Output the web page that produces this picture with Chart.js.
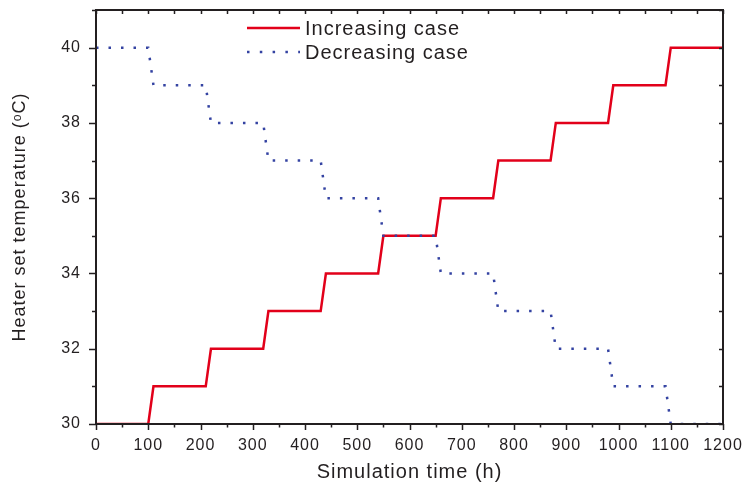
<!DOCTYPE html>
<html>
<head>
<meta charset="utf-8">
<script src="https://cdn.jsdelivr.net/npm/chart.js@4/dist/chart.umd.min.js"></script>
<style>
  html, body { margin: 0; padding: 0; background: #fff; }
</style>
</head>
<body>
<canvas id="heaterChart" width="743" height="489"></canvas>
<script>
// data
const timeHours = [0, 100, 110, 210, 220, 320, 330, 430, 440, 540, 550, 650, 660, 760, 770, 870, 880, 980, 990, 1090, 1100, 1200];
const increasingTemps = [30, 30, 31, 31, 32, 32, 33, 33, 34, 34, 35, 35, 36, 36, 37, 37, 38, 38, 39, 39, 40, 40];
const decreasingTemps = [40, 40, 39, 39, 38, 38, 37, 37, 36, 36, 35, 35, 34, 34, 33, 33, 32, 32, 31, 31, 30, 30];
const seriesNames = ["Increasing case", "Decreasing case"];
const xTickValues = [0, 100, 200, 300, 400, 500, 600, 700, 800, 900, 1000, 1100, 1200];
const yTickValues = [30, 32, 34, 36, 38, 40];

const RED = "#e2001a";
const BLUE = "#3443a2";
const INK = "#231f20";
const FONT = "'Liberation Sans', Arial, sans-serif";

function toPoints(values) {
    return timeHours.map((t, i) => ({ x: t, y: values[i] }));
}

// letter spacing like the original figure text
const spacing = {
    id: "spacing",
    beforeLayout(chart) { chart.ctx.letterSpacing = "1px"; },
    beforeDraw(chart) { chart.ctx.letterSpacing = "1px"; },
};

// box frame with minor / inward ticks
const frameTicks = {
    id: "frameTicks",
    afterDraw(chart) {
        const { ctx, chartArea: a, scales: { x, y } } = chart;
        ctx.save();
        ctx.strokeStyle = INK;
        ctx.lineWidth = 2;
        ctx.strokeRect(a.left, a.top, a.right - a.left, a.bottom - a.top);
        ctx.lineWidth = 1.5;
        ctx.beginPath();
        for (let t = 0; t <= 1200; t += 50) {
            const px = Math.round(x.getPixelForValue(t)) + 0.5;
            const len = t % 100 === 0 ? 6 : 3.5;
            ctx.moveTo(px, a.bottom);
            ctx.lineTo(px, a.bottom + len);
            ctx.moveTo(px, a.top);
            ctx.lineTo(px, a.top + 4);
        }
        for (let v = 30; v <= 41; v++) {
            const py = Math.round(y.getPixelForValue(v)) + 0.5;
            const len = v % 2 === 0 ? 7 : 4;
            ctx.moveTo(a.left, py);
            ctx.lineTo(a.left - len, py);
            ctx.moveTo(a.right, py);
            ctx.lineTo(a.right - 4, py);
        }
        ctx.stroke();
        ctx.restore();
    }
};

// two-row legend at the top
const stackedLegend = {
    id: "stackedLegend",
    afterDraw(chart) {
        const ctx = chart.ctx;
        const rows = [
            { label: seriesNames[0], color: RED, dash: [], width: 2.5, y: 28 },
            { label: seriesNames[1], color: BLUE, dash: [2.5, 10.3], width: 2.5, y: 52 },
        ];
        ctx.save();
        rows.forEach(r => {
            ctx.strokeStyle = r.color;
            ctx.lineWidth = r.width;
            ctx.setLineDash(r.dash);
            ctx.beginPath();
            ctx.moveTo(247, r.y);
            ctx.lineTo(300, r.y);
            ctx.stroke();
            ctx.setLineDash([]);
            ctx.fillStyle = INK;
            ctx.font = "20px " + FONT;
            ctx.textBaseline = "middle";
            ctx.textAlign = "left";
            ctx.fillText(r.label, 305, r.y + 1);
        });
        ctx.restore();
    }
};

const ctx = document.getElementById("heaterChart").getContext("2d");

new Chart(ctx, {
    type: "line",
    data: {
        datasets: [
            {
                label: seriesNames[0],
                data: toPoints(increasingTemps),
                borderColor: RED,
                borderWidth: 2.5,
                pointRadius: 0,
                tension: 0,
                fill: false,
                order: 1,
            },
            {
                label: seriesNames[1],
                data: toPoints(decreasingTemps),
                borderColor: BLUE,
                borderWidth: 2.5,
                borderDash: [2.5, 10],
                pointRadius: 0,
                tension: 0,
                fill: false,
                order: 0,
            },
        ],
    },
    options: {
        responsive: false,
        animation: false,
        layout: { padding: { top: 10, right: 20, bottom: 0, left: 0 } },
        plugins: {
            legend: { display: false },
            tooltip: { enabled: false },
        },
        scales: {
            x: {
                type: "linear",
                min: 0,
                max: 1200,
                afterFit: s => { s.height = 65; s.paddingLeft = 0; s.paddingRight = 0; },
                afterBuildTicks: s => { s.ticks = xTickValues.map(v => ({ value: v })); },
                grid: { drawOnChartArea: false, drawTicks: false },
                border: { display: false },
                ticks: { color: INK, padding: 12, font: { family: FONT, size: 16 }, callback: v => String(v) },
                title: {
                    display: true,
                    text: "Simulation time (h)",
                    color: INK,
                    font: { family: FONT, size: 20 },
                    padding: { top: 0, bottom: 5 },
                },
            },
            y: {
                min: 30,
                max: 41,
                afterFit: s => { s.width = 96; s.paddingTop = 0; s.paddingBottom = 0; },
                afterBuildTicks: s => { s.ticks = yTickValues.map(v => ({ value: v })); },
                grid: { drawOnChartArea: false, drawTicks: false },
                border: { display: false },
                ticks: { color: INK, padding: 15, font: { family: FONT, size: 16 }, callback: v => String(v) },
                title: {
                    display: true,
                    text: "Heater set temperature (\u1D52C)",
                    color: INK,
                    font: { family: FONT, size: 18 },
                    padding: { top: 9, bottom: 0 },
                },
            },
        },
    },
    plugins: [spacing, frameTicks, stackedLegend],
});
</script>
</body>
</html>
